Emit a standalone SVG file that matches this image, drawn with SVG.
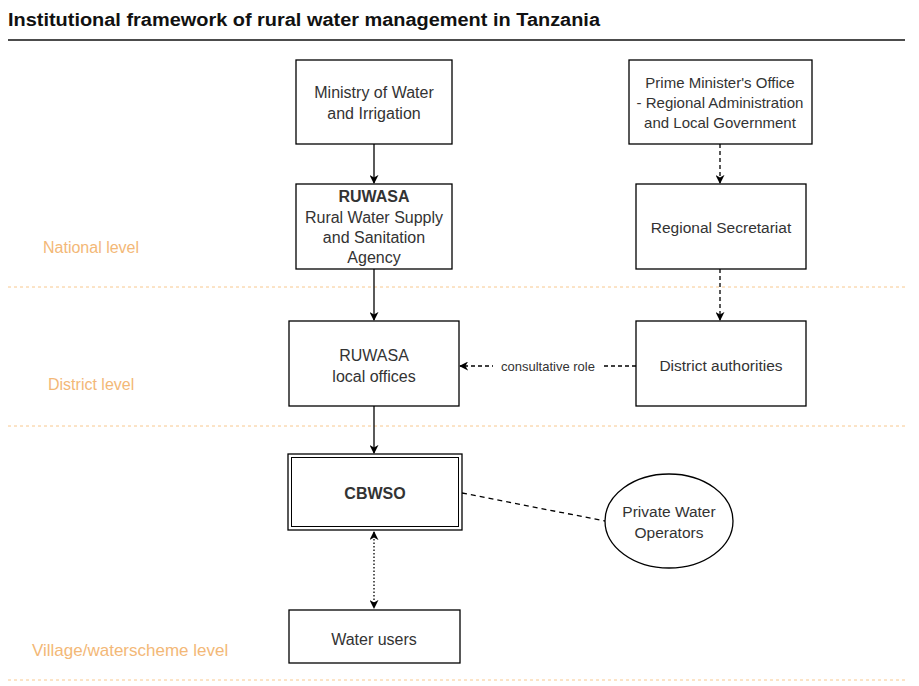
<svg xmlns="http://www.w3.org/2000/svg" width="919" height="686" viewBox="0 0 919 686">
<style>
text{font-family:"Liberation Sans",Arial,sans-serif;fill:#333;text-anchor:middle;font-size:16px}
.box{fill:#fff;stroke:#000;stroke-width:1.3}
.lvl{fill:#F3B877;font-size:16px;text-anchor:start}
.sep{stroke:#F8C88E;stroke-width:1;stroke-dasharray:3 3}
.c{fill:none;stroke:#000;stroke-width:1.3}
</style>
<defs>
<marker id="ah" viewBox="0 0 10 10" refX="9" refY="5" markerWidth="9" markerHeight="9" orient="auto-start-reverse" markerUnits="userSpaceOnUse">
<path d="M0,0 L10,5 L0,10 L3,5 Z" fill="#000"/>
</marker>
</defs>
<rect width="919" height="686" fill="#fff"/>
<text x="8" y="26" textLength="592" lengthAdjust="spacingAndGlyphs" style="font-size:18px;font-weight:bold;fill:#111;text-anchor:start">Institutional framework of rural water management in Tanzania</text>
<line x1="8" y1="40" x2="905" y2="40" stroke="#111" stroke-width="1.5"/>
<g id="levels">
<line class="sep" x1="8" y1="287" x2="905" y2="287"/>
<line class="sep" x1="8" y1="426" x2="905" y2="426"/>
<line class="sep" x1="8" y1="680" x2="905" y2="680"/>
<text class="lvl" x="43" y="253">National level</text>
<text class="lvl" x="48" y="390">District level</text>
<text class="lvl" x="32" y="656" style="font-size:17px">Village/waterscheme level</text>
</g>
<g id="connectors">
<line class="c" x1="374" y1="144" x2="374" y2="183" marker-end="url(#ah)"/>
<line class="c" x1="720" y1="144" x2="720" y2="183" stroke-dasharray="4 3" marker-end="url(#ah)"/>
<line class="c" x1="374" y1="269" x2="374" y2="320" marker-end="url(#ah)"/>
<line class="c" x1="720" y1="269" x2="720" y2="320" stroke-dasharray="4 3" marker-end="url(#ah)"/>
<line class="c" x1="636" y1="366" x2="460" y2="366" stroke-dasharray="4 3" marker-end="url(#ah)"/>
<rect x="493" y="357" width="110" height="18" fill="#fff"/>
<text x="548" y="371" style="font-size:13px">consultative role</text>
<line class="c" x1="374" y1="406" x2="374" y2="453" marker-end="url(#ah)"/>
<line class="c" x1="462" y1="493" x2="605" y2="521" stroke-dasharray="5 4"/>
<line class="c" x1="374" y1="532" x2="374" y2="608" stroke-dasharray="1.5 2" marker-start="url(#ah)" marker-end="url(#ah)"/>
</g>
<g id="ministry">
<rect class="box" x="296" y="60" width="156" height="84"/>
<text x="374" y="98">Ministry of Water</text>
<text x="374" y="119">and Irrigation</text>
</g>
<g id="ruwasa">
<rect class="box" x="296" y="184" width="156" height="85"/>
<text x="374" y="202" style="font-weight:bold">RUWASA</text>
<text x="374" y="223">Rural Water Supply</text>
<text x="374" y="243">and Sanitation</text>
<text x="374" y="263">Agency</text>
</g>
<g id="pmo">
<rect class="box" x="629" y="60" width="183" height="84"/>
<text x="720" y="88" style="font-size:15px">Prime Minister's Office</text>
<text x="720" y="108" style="font-size:15px">- Regional Administration</text>
<text x="720" y="128" style="font-size:15px">and Local Government</text>
</g>
<g id="regional">
<rect class="box" x="636" y="184" width="170" height="85"/>
<text x="721" y="233" style="font-size:15.5px">Regional Secretariat</text>
</g>
<g id="ruwasa-local">
<rect class="box" x="289" y="321" width="170" height="85"/>
<text x="374" y="361">RUWASA</text>
<text x="374" y="382">local offices</text>
</g>
<g id="district">
<rect class="box" x="636" y="321" width="170" height="85"/>
<text x="721" y="371" style="font-size:15.5px">District authorities</text>
</g>
<g id="cbwso">
<rect class="box" x="288" y="454" width="174" height="76" stroke-width="2"/>
<rect x="291.5" y="457.5" width="167" height="69" fill="none" stroke="#000" stroke-width="1"/>
<text x="375" y="499" style="font-weight:bold">CBWSO</text>
</g>
<g id="pwo">
<ellipse class="box" cx="669" cy="521" rx="64" ry="47"/>
<text x="669" y="517" style="font-size:15.5px">Private Water</text>
<text x="669" y="538" style="font-size:15.5px">Operators</text>
</g>
<g id="water-users">
<rect class="box" x="289" y="610" width="171" height="53"/>
<text x="374" y="645">Water users</text>
</g>
</svg>
